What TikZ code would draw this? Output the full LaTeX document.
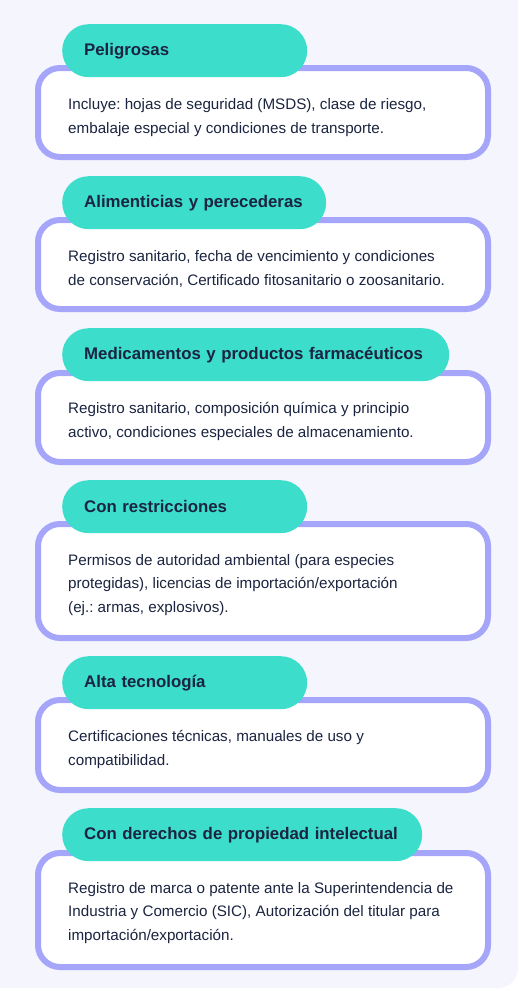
\documentclass[tikz,border=0pt]{standalone}
\usepackage{fontspec}
\setmainfont{Liberation Sans}
\frenchspacing
\definecolor{fondo}{HTML}{F5F5FD}
\definecolor{borde}{HTML}{A5A5FA}
\definecolor{turquesa}{HTML}{3CDDCA}
\definecolor{tinta}{HTML}{1B2440}
\begin{document}
\begin{tikzpicture}[x=1pt,y=-1pt,
    caja/.style={draw=borde,line width=6pt,fill=white,rounded corners=22pt,minimum width=450pt,anchor=north west,inner sep=0pt},
    etiqueta/.style={fill=turquesa,rounded corners=26.5pt,minimum height=53pt,inner xsep=22pt,inner ysep=0pt,anchor=north west,align=left,text=tinta,font=\fontsize{16.8}{20}\selectfont\bfseries},
    texto/.style={anchor=base west,inner sep=0pt,align=left,text=tinta,font=\fontsize{15.2}{23.3}\selectfont}]
    \useasboundingbox(0,0)rectangle(522,991);
    \fill[white](0,0)rectangle(522,991);
    \fill[fondo,rounded corners=20pt](-20,-20)rectangle(518,988);

    % base = baseline of the last line
    \node[caja,minimum height=89pt](c1)at(35,65){};
    \node[etiqueta,text width=201pt](e1)at(62,24){Peligrosas};
    \node[texto](t1)at(68,133){Incluye: hojas de seguridad (MSDS), clase de riesgo,\\embalaje especial y condiciones de transporte.};

    \node[caja,minimum height=89pt](c2)at(35,217){};
    \node[etiqueta,text width=220pt](e2)at(62,176){Alimenticias y perecederas};
    \node[texto](t2)at(68,285){Registro sanitario, fecha de vencimiento y condiciones\\de conservación, Certificado fitosanitario o zoosanitario.};

    \node[caja,minimum height=89pt](c3)at(35,370){};
    \node[etiqueta,text width=343pt](e3)at(62,328){Medicamentos y productos farmacéuticos};
    \node[texto](t3)at(68,437){Registro sanitario, composición química y principio\\activo, condiciones especiales de almacenamiento.};

    \node[caja,minimum height=114pt](c4)at(35,521){};
    \node[etiqueta,text width=201pt](e4)at(62,480){Con restricciones};
    \node[texto](t4)at(68,612){Permisos de autoridad ambiental (para especies\\protegidas), licencias de importación/exportación\\(ej.: armas, explosivos).};

    \node[caja,minimum height=90pt](c5)at(35,697){};
    \node[etiqueta,text width=201pt](e5)at(62,656){Alta tecnología};
    \node[texto](t5)at(68,765){Certificaciones técnicas, manuales de uso y\\compatibilidad.};

    \node[caja,minimum height=114pt](c6)at(35,850){};
    \node[etiqueta,text width=316pt](e6)at(62,808){Con derechos de propiedad intelectual};
    \node[texto](t6)at(68,940){Registro de marca o patente ante la Superintendencia de\\Industria y Comercio (SIC), Autorización del titular para\\importación/exportación.};
\end{tikzpicture}
\end{document}
